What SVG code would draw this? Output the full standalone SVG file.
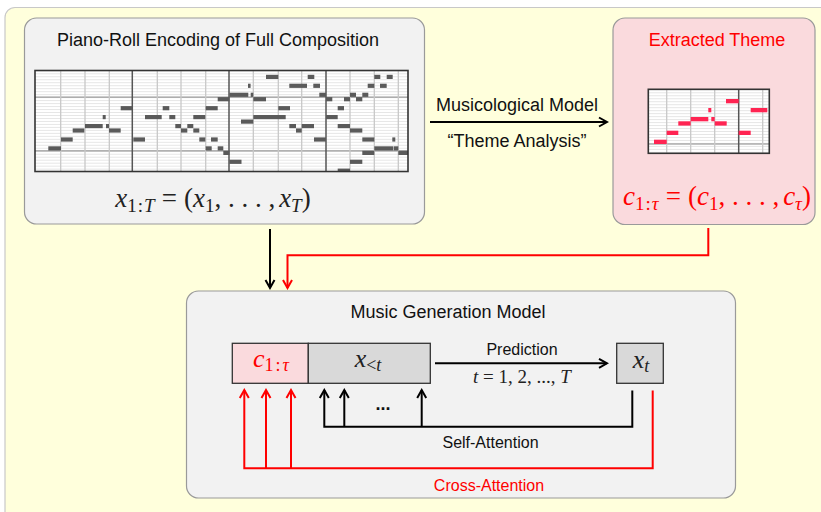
<svg xmlns="http://www.w3.org/2000/svg" width="821" height="512" viewBox="0 0 821 512">
<style>
.lbl{font-family:"Liberation Sans",Arial,sans-serif;fill:#111}
.red{fill:#ff0000}
.math{font-family:"Liberation Serif","Times New Roman",serif;font-style:italic;fill:#222}
.rm{font-style:normal}
.box{fill:#f2f2f2;stroke:#9a9a9a;stroke-width:1.2}
.note{fill:#5a5a5a}
.tnote{fill:#ff2452}
.beat{stroke:#c8c8c8;stroke-width:1.3}
.bar{stroke:#555;stroke-width:1.5}
.frame{fill:none;stroke:#333;stroke-width:1.6}
.bk{fill:none;stroke:#000;stroke-width:2}
.rd{fill:none;stroke:#ff0000;stroke-width:2}
</style>
<defs>
<pattern id="rowsA" patternUnits="userSpaceOnUse" x="0" y="70.3" width="20" height="2.98"><rect width="20" height="0.8" fill="#e0e0e0"/></pattern>
<pattern id="rowsB" patternUnits="userSpaceOnUse" x="0" y="89.3" width="20" height="2.98"><rect width="20" height="0.8" fill="#e0e0e0"/></pattern>
<marker id="ahK" markerUnits="userSpaceOnUse" viewBox="0 0 12 12" refX="10" refY="6" markerWidth="12" markerHeight="12" orient="auto"><path d="M2,1.5 L10,6 L2,10.5" fill="none" stroke="#000" stroke-width="2"/></marker>
<marker id="ahR" markerUnits="userSpaceOnUse" viewBox="0 0 12 12" refX="10" refY="6" markerWidth="12" markerHeight="12" orient="auto"><path d="M2,1.5 L10,6 L2,10.5" fill="none" stroke="#ff0000" stroke-width="2"/></marker>
</defs>

<rect x="5" y="7.5" width="830" height="515" rx="10" fill="#ffffdc" stroke="#c8c8c8" stroke-width="1.2"/>

<g id="full-composition">
<rect class="box" x="24.5" y="18" width="400" height="206" rx="12"/>
<text class="lbl" x="218" y="46" font-size="18" text-anchor="middle">Piano-Roll Encoding of Full Composition</text>
<rect x="35" y="70.5" width="373" height="101" fill="#fff"/>
<rect x="35" y="70.5" width="373" height="101" fill="url(#rowsA)"/>
<path d="M35,97.1 H408 M35,150.8 H408" stroke="#999" stroke-width="1.2"/>
<path class="beat" d="M60.7,70.5V171.5M85,70.5V171.5M109.3,70.5V171.5M157.3,70.5V171.5M181,70.5V171.5M205.7,70.5V171.5M253.3,70.5V171.5M278.3,70.5V171.5M301.7,70.5V171.5M350,70.5V171.5M374.3,70.5V171.5M398.3,70.5V171.5"/>
<path class="bar" d="M132.3,70.5V171.5M229,70.5V171.5M326,70.5V171.5"/>
<g class="note">
<rect x="48.3" y="146.3" width="12.7" height="4.2"/>
<rect x="61" y="137.4" width="11.7" height="4.2"/>
<rect x="72.7" y="128.4" width="11.6" height="4.2"/>
<rect x="85" y="124" width="17.7" height="4.2"/>
<rect x="102.7" y="115" width="3" height="4.2"/>
<rect x="106" y="124" width="3" height="4.2"/>
<rect x="109" y="128.4" width="11.7" height="4.2"/>
<rect x="120.7" y="106.1" width="11.6" height="4.2"/>
<rect x="133.3" y="137.4" width="11.7" height="4.2"/>
<rect x="145" y="115" width="16.7" height="4.2"/>
<rect x="162.7" y="106.1" width="6.6" height="4.2"/>
<rect x="169.3" y="115" width="6" height="4.2"/>
<rect x="175.3" y="124" width="5.7" height="4.2"/>
<rect x="181" y="128.4" width="6.3" height="4.2"/>
<rect x="187.3" y="124" width="6" height="4.2"/>
<rect x="193.3" y="128.4" width="6" height="4.2"/>
<rect x="193.3" y="115" width="12" height="4.2"/>
<rect x="199.3" y="137.4" width="6" height="4.2"/>
<rect x="205.7" y="106.1" width="12" height="4.2"/>
<rect x="211" y="137.4" width="6.7" height="4.2"/>
<rect x="205.7" y="146.3" width="6" height="4.2"/>
<rect x="217.7" y="146.3" width="5.6" height="4.2"/>
<rect x="217.7" y="97.1" width="11.8" height="4.2"/>
<rect x="223.3" y="150.8" width="6.2" height="4.2"/>
<rect x="229.3" y="159.7" width="12.2" height="4.2"/>
<rect x="229.3" y="92.7" width="19" height="4.2"/>
<rect x="248" y="83.7" width="2.6" height="4.2"/>
<rect x="250.7" y="92.7" width="2.6" height="4.2"/>
<rect x="253.3" y="97.1" width="12.7" height="4.2"/>
<rect x="266" y="74.8" width="12.3" height="4.2"/>
<rect x="241" y="119.5" width="12.3" height="4.2"/>
<rect x="253.3" y="115" width="32.4" height="4.2"/>
<rect x="278.3" y="106.1" width="11.7" height="4.2"/>
<rect x="289.3" y="83.7" width="17.7" height="4.2"/>
<rect x="307.7" y="74.8" width="6.6" height="4.2"/>
<rect x="313.3" y="83.7" width="6.7" height="4.2"/>
<rect x="319.3" y="92.7" width="6.7" height="4.2"/>
<rect x="289.3" y="124" width="6.7" height="4.2"/>
<rect x="296" y="128.4" width="5.7" height="4.2"/>
<rect x="301.7" y="124" width="12.3" height="4.2"/>
<rect x="314" y="137.4" width="12" height="4.2"/>
<rect x="326" y="97.1" width="6.3" height="4.2"/>
<rect x="326" y="115" width="11.7" height="4.2"/>
<rect x="337.7" y="106.1" width="6.3" height="4.2"/>
<rect x="344" y="97.1" width="6" height="4.2"/>
<rect x="350" y="92.7" width="6" height="4.2"/>
<rect x="356" y="97.1" width="6.3" height="4.2"/>
<rect x="362.3" y="92.7" width="6" height="4.2"/>
<rect x="367.7" y="83.7" width="6.6" height="4.2"/>
<rect x="374.3" y="74.8" width="6" height="4.2"/>
<rect x="380" y="83.7" width="6.7" height="4.2"/>
<rect x="386.7" y="74.8" width="6" height="4.2"/>
<rect x="337.7" y="124" width="12.3" height="4.2"/>
<rect x="350" y="128.4" width="12.3" height="4.2"/>
<rect x="362.3" y="137.4" width="12" height="4.2"/>
<rect x="392.3" y="137.4" width="3" height="4.2"/>
<rect x="374.3" y="146.3" width="19" height="4.2"/>
<rect x="393.8" y="146.3" width="4.5" height="4.2"/>
<rect x="362.3" y="150.8" width="12" height="4.2"/>
<rect x="398.3" y="150.8" width="9.7" height="4.2"/>
<rect x="350" y="159.7" width="12.3" height="4.2"/>
<rect x="337.7" y="168.6" width="12.3" height="3"/>
</g>
<rect class="frame" x="35" y="70.5" width="373" height="101"/>
<text class="math" x="213" y="207" font-size="27" text-anchor="middle">x<tspan class="rm" font-size="19" dy="5">1</tspan><tspan class="rm" font-size="19" dx="1">:</tspan><tspan font-size="19" dx="1">T</tspan><tspan class="rm" dy="-5" dx="7">=</tspan><tspan class="rm" dx="7">(</tspan>x<tspan class="rm" font-size="19" dy="5">1</tspan><tspan class="rm" dy="-5">, . . . ,</tspan><tspan dx="4">x</tspan><tspan font-size="19" dy="5">T</tspan><tspan class="rm" dy="-5">)</tspan></text>
</g>

<g id="extracted-theme">
<rect x="613" y="18" width="202" height="206.5" rx="12" fill="#fadadd" stroke="#9a9a9a" stroke-width="1.2"/>
<text class="lbl red" x="717" y="46" font-size="18" text-anchor="middle">Extracted Theme</text>
<rect x="648.3" y="89.3" width="121" height="64" fill="#fff"/>
<rect x="648.3" y="89.3" width="121" height="64" fill="url(#rowsB)"/>
<path d="M648.3,144 H769.3" stroke="#888" stroke-width="1.2"/>
<path class="beat" d="M666.7,89.3V153.3M690.7,89.3V153.3M714.7,89.3V153.3M762.7,89.3V153.3"/>
<path class="bar" d="M738.7,89.3V153.3"/>
<g class="tnote">
<rect x="654" y="139.7" width="12.7" height="4.3"/>
<rect x="666.7" y="130.7" width="11.6" height="4.3"/>
<rect x="678.3" y="121.3" width="12.4" height="4.3"/>
<rect x="690.7" y="117" width="17.6" height="4.3"/>
<rect x="708.3" y="108" width="3" height="4.3"/>
<rect x="711.3" y="117" width="3.4" height="4.3"/>
<rect x="714.7" y="121.3" width="12" height="4.3"/>
<rect x="726" y="99" width="12.7" height="4.3"/>
<rect x="738.7" y="130.7" width="12" height="4.3"/>
<rect x="750.7" y="108" width="16.6" height="4.3"/>
</g>
<rect class="frame" x="648.3" y="89.3" width="121" height="64"/>
<text class="math" x="717" y="205" font-size="27" text-anchor="middle" style="fill:#ff0000">c<tspan class="rm" font-size="19" dy="5">1</tspan><tspan class="rm" font-size="19" dx="1">:</tspan><tspan font-size="19" dx="1">τ</tspan><tspan class="rm" dy="-5" dx="7">=</tspan><tspan class="rm" dx="7">(</tspan>c<tspan class="rm" font-size="19" dy="5">1</tspan><tspan class="rm" dy="-5">, . . . ,</tspan><tspan dx="4">c</tspan><tspan font-size="19" dy="5">τ</tspan><tspan class="rm" dy="-5">)</tspan></text>
</g>

<g id="generation-model">
<rect class="box" x="186.5" y="291" width="549" height="207" rx="12"/>
<text class="lbl" x="448" y="318" font-size="18" text-anchor="middle">Music Generation Model</text>
</g>

<g id="theme-token">
<rect x="232.3" y="343.3" width="76" height="40" fill="#fadadd" stroke="#333" stroke-width="1.3"/>
<text class="math" x="271" y="367" font-size="26" text-anchor="middle" style="fill:#ff0000">c<tspan class="rm" font-size="18" dy="4">1</tspan><tspan class="rm" font-size="18" dx="2">:</tspan><tspan font-size="18" dx="2">τ</tspan></text>
</g>
<g id="past-tokens">
<rect x="308.3" y="343.3" width="122" height="40" fill="#d9d9d9" stroke="#333" stroke-width="1.3"/>
<text class="math" x="368" y="367" font-size="26" text-anchor="middle">x<tspan class="rm" font-size="18" dy="4">&lt;</tspan><tspan font-size="18">t</tspan></text>
</g>
<g id="next-token">
<rect x="616.7" y="343.3" width="46.6" height="40" fill="#d9d9d9" stroke="#333" stroke-width="1.3"/>
<text class="math" x="641" y="368" font-size="26" text-anchor="middle">x<tspan font-size="18" dy="4">t</tspan></text>
</g>

<g id="connectors">
<path class="bk" d="M430,122 H607" marker-end="url(#ahK)"/>
<text class="lbl" x="517" y="111" font-size="18" text-anchor="middle">Musicological Model</text>
<text class="lbl" x="517" y="147" font-size="18" text-anchor="middle">“Theme Analysis”</text>
<path class="bk" d="M270,229 V288" marker-end="url(#ahK)"/>
<path class="rd" d="M708.3,228 V255.3 H287.5 V288" marker-end="url(#ahR)"/>
<path class="bk" d="M435,363.3 H607" marker-end="url(#ahK)"/>
<text class="lbl" x="522" y="355" font-size="16" text-anchor="middle">Prediction</text>
<text class="math" x="522" y="383" font-size="19" text-anchor="middle">t<tspan class="rm"> = 1, 2, ..., </tspan>T</text>
<path class="bk" d="M632.3,390.5 V426.7 H324.3 V390" marker-end="url(#ahK)"/>
<path class="bk" d="M344.3,426.7 V390" marker-end="url(#ahK)"/>
<path class="bk" d="M421.7,426.7 V390" marker-end="url(#ahK)"/>
<text class="lbl" x="383" y="410" font-size="18" font-weight="bold" text-anchor="middle">...</text>
<text class="lbl" x="490.5" y="448" font-size="16" text-anchor="middle">Self-Attention</text>
<path class="rd" d="M652.7,390.5 V468.3 H244.3 V390" marker-end="url(#ahR)"/>
<path class="rd" d="M266,468.3 V390" marker-end="url(#ahR)"/>
<path class="rd" d="M291,468.3 V390" marker-end="url(#ahR)"/>
<text class="lbl red" x="489" y="491" font-size="16" text-anchor="middle">Cross-Attention</text>
</g>
</svg>
